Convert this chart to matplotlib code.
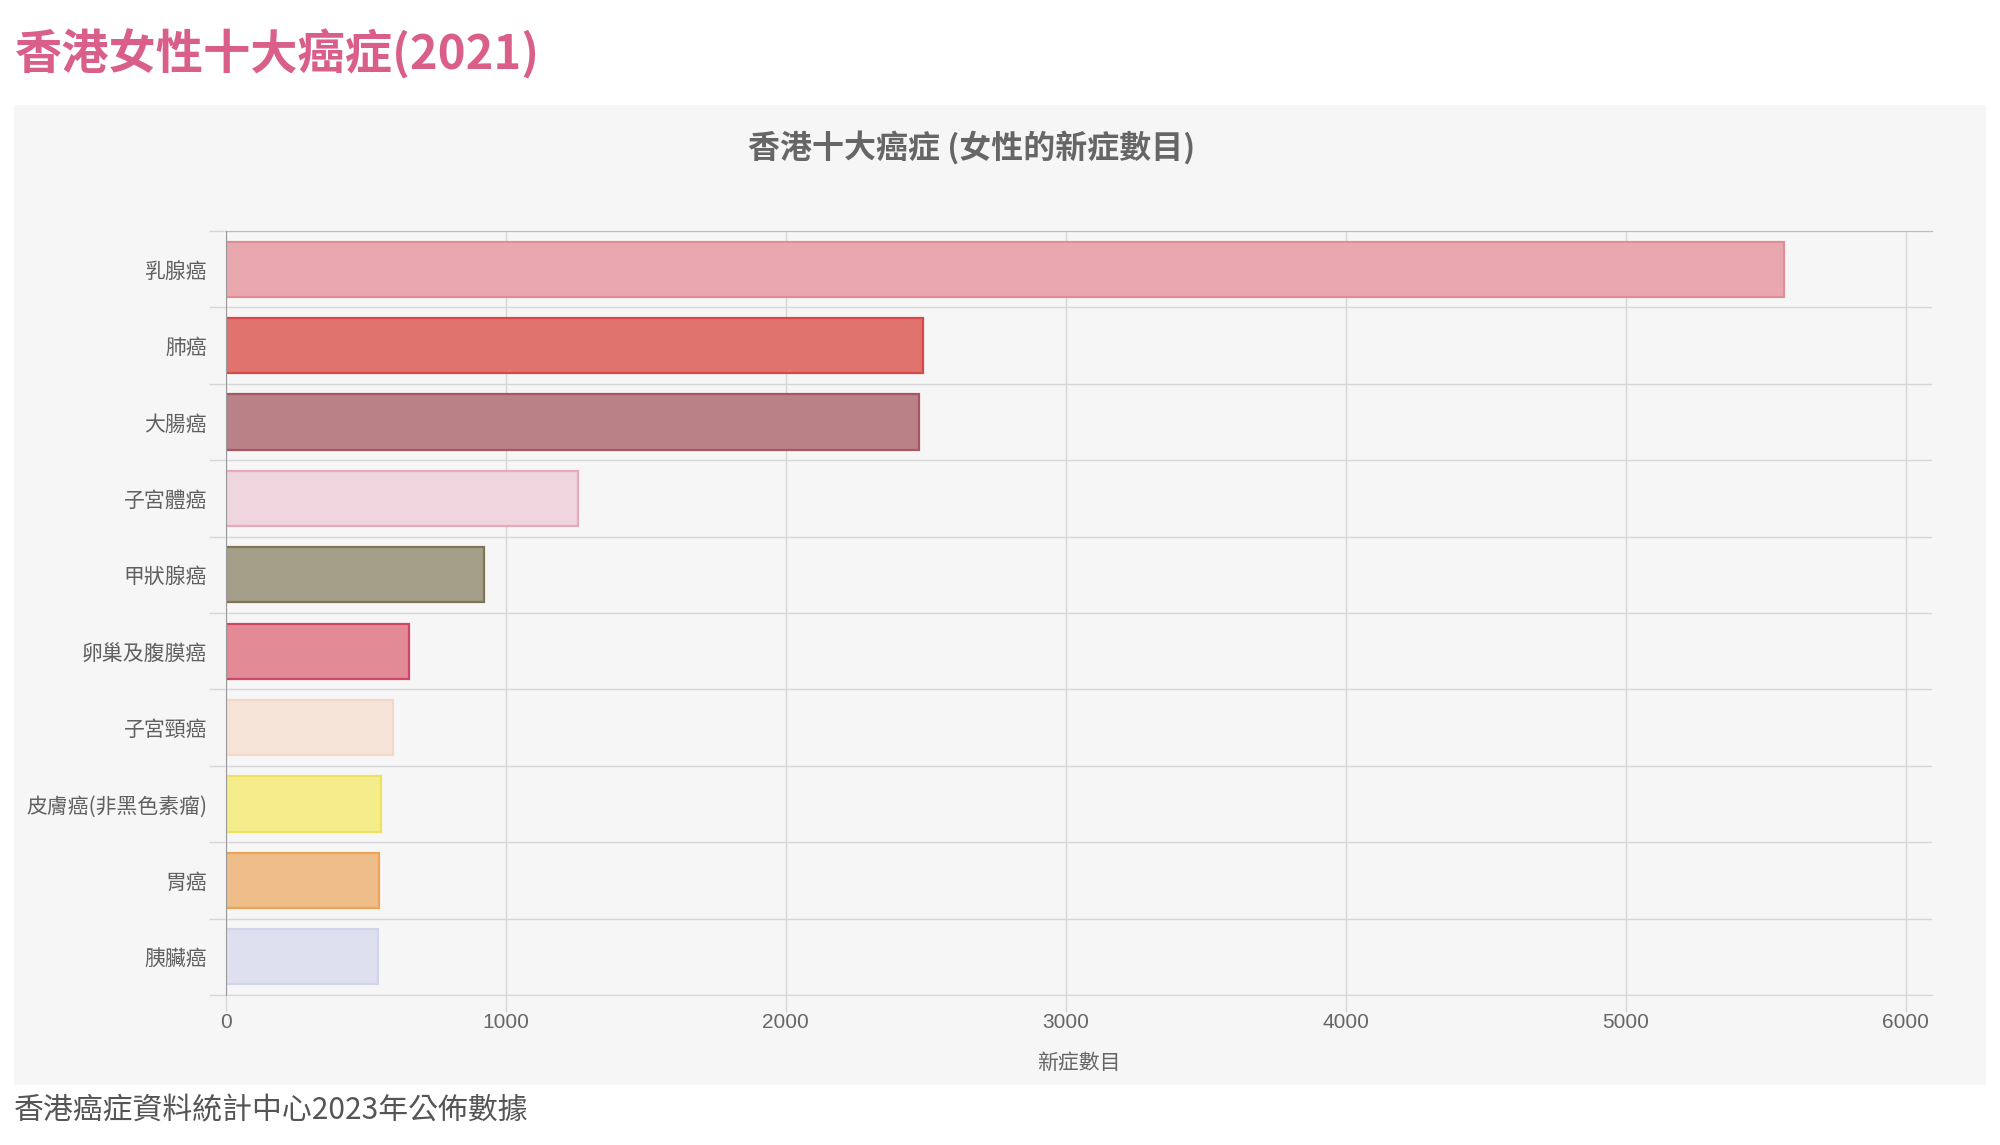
import matplotlib
matplotlib.use("Agg")
import matplotlib.pyplot as plt
from matplotlib.patches import Rectangle

plt.rcParams['font.family'] = ['Liberation Sans', 'Noto Sans CJK TC', 'DejaVu Sans']

# 數據 (香港癌症資料統計中心, 2021 女性新症)
cancers = ['乳腺癌', '肺癌', '大腸癌', '子宮體癌', '甲狀腺癌',
           '卵巢及腹膜癌', '子宮頸癌', '皮膚癌(非黑色素瘤)', '胃癌', '胰臟癌']
cases = [5565, 2489, 2477, 1257, 921, 656, 599, 554, 548, 543]
fills = ['#e9a8ad', '#e0736e', '#b98286', '#efd5dd', '#a59f89',
         '#e38a97', '#f6e3d7', '#f5ec8b', '#eebd89', '#dee0ef']
edges = ['#e08d98', '#d94848', '#a65763', '#e8a9ba', '#7f7556',
         '#d24566', '#f4d7c6', '#efe15e', '#eda256', '#d0d5ea']
xticks = [0, 1000, 2000, 3000, 4000, 5000, 6000]

W, H = 2000, 1145
fig = plt.figure(figsize=(W / 100, H / 100), dpi=100)
fig.patch.set_facecolor('white')

# 背景面板
fig.patches.append(Rectangle((14 / W, 1 - 1085 / H), (1986 - 14) / W, (1085 - 105) / H,
                             transform=fig.transFigure, facecolor='#f6f6f7',
                             edgecolor='none', zorder=-10))

ax = fig.add_axes([225.7 / W, 1 - 995 / H, (1932 - 225.7) / W, (995 - 231) / H])
ax.set_facecolor('none')
ax.set_zorder(1)

ypos = list(range(len(cancers)))
ax.barh(ypos, cases, height=0.72, color=fills, edgecolor=edges, linewidth=1.6, zorder=3)

ax.set_xlim(0, 6094)
ax.set_ylim(len(cancers) - 0.5, -0.5)

ax.set_xticks(xticks)
ax.set_xticklabels([str(t) for t in xticks], fontsize=15, color='#666666')
ax.tick_params(axis='x', length=12, width=1, color='#d6d6d8', pad=1)

ax.set_yticks(ypos)
ax.set_yticklabels(cancers, fontsize=15, color='#606060', fontweight='medium',
                   family=['Noto Sans CJK TC'])
ax.tick_params(axis='y', which='major', length=0, pad=13.5)
ax.set_yticks([i - 0.5 for i in range(len(cancers) + 1)], minor=True)
ax.tick_params(axis='y', which='minor', length=12.5, width=1, color='#d6d6d8')

ax.grid(axis='x', which='major', color='#d6d6d8', linewidth=1, zorder=1)
ax.grid(axis='y', which='minor', color='#d6d6d8', linewidth=1, zorder=1)

ax.spines['right'].set_visible(False)
ax.spines['bottom'].set_color('#d6d6d8')
ax.spines['top'].set_color('#bdbdc0')
ax.spines['left'].set_color('#9a9a9a')
ax.spines['left'].set_zorder(4)

ax.set_xlabel('新症數目', fontsize=15, color='#666666', labelpad=14,
              family=['Noto Sans CJK TC'])

fig.text(972 / W, 1 - 148 / H, '香港十大癌症 (女性的新症數目)', fontsize=23,
         fontweight='bold', color='#666666', ha='center', va='center',
         family=['Noto Sans CJK TC'])
fig.text(14 / W, 1 - 54 / H, '香港女性十大癌症(2021)', fontsize=34,
         fontweight='bold', color='#d95f8a', ha='left', va='center',
         family=['Noto Sans CJK TC'])
fig.text(14 / W, 1 - 1111 / H, '香港癌症資料統計中心2023年公佈數據', fontsize=21.5,
         color='#555555', ha='left', va='center', family=['Noto Sans CJK TC'])

fig.savefig('out.png', dpi=100)
